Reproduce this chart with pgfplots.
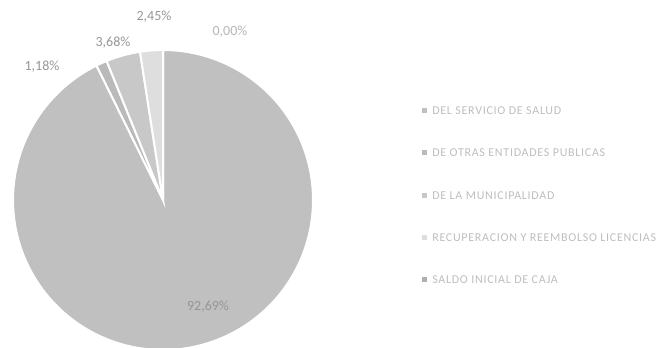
\documentclass[border=0pt]{standalone}
\usepackage{pgfplots}
\pgfplotsset{compat=1.18}
\usepackage{pgfplotstable}
\usepackage{fontspec}
\setmainfont{Carlito}
\newfontfamily\legfont[LetterSpace=6]{Carlito}

\definecolor{sA}{RGB}{192,192,192}
\definecolor{sB}{RGB}{186,186,186}
\definecolor{sC}{RGB}{200,200,200}
\definecolor{sD}{RGB}{222,222,222}
\definecolor{sE}{RGB}{175,175,175}
\definecolor{lbl}{RGB}{150,150,150}
\definecolor{leg}{RGB}{190,190,190}

\pgfplotstableread{
val
92.69
1.18
3.68
2.45
0.00
}\piedata

\pgfplotstablegetelem{0}{val}\of\piedata \let\vA\pgfplotsretval
\pgfplotstablegetelem{1}{val}\of\piedata \let\vB\pgfplotsretval
\pgfplotstablegetelem{2}{val}\of\piedata \let\vC\pgfplotsretval
\pgfplotstablegetelem{3}{val}\of\piedata \let\vD\pgfplotsretval
\pgfmathsetmacro\aA{0}
\pgfmathsetmacro\aB{\aA+3.6*\vA}
\pgfmathsetmacro\aC{\aB+3.6*\vB}
\pgfmathsetmacro\aD{\aC+3.6*\vC}
\pgfmathsetmacro\aE{\aD+3.6*\vD}

\newcommand\legitem[3]{%
  \fill[#2] (422,#1-2.5) rectangle (427,#1+2.5);
  \node[anchor=west, text=leg, inner sep=0pt, font=\legfont\fontsize{9}{10}\selectfont] at (432,#1) {#3};}

\begin{document}
\begin{tikzpicture}
\begin{axis}[
  scale only axis, width=494.25pt, height=261pt,
  xmin=0, xmax=659, ymin=0, ymax=348, y dir=reverse,
  hide axis, clip=true, clip mode=global,
]
\addplot[fill=sA, draw=white, line width=1.5pt, domain=\aA:\aB, samples=200]
  ({163+150*sin(x)},{200-150*cos(x)}) -- (163,200) -- cycle;
\addplot[fill=sB, draw=white, line width=1.5pt, domain=\aB:\aC, samples=10]
  ({163+150*sin(x)},{200-150*cos(x)}) -- (163,200) -- cycle;
\addplot[fill=sC, draw=white, line width=1.5pt, domain=\aC:\aD, samples=10]
  ({163+150*sin(x)},{200-150*cos(x)}) -- (163,200) -- cycle;
\addplot[fill=sD, draw=white, line width=1.5pt, domain=\aD:\aE, samples=10]
  ({163+150*sin(x)},{200-150*cos(x)}) -- (163,200) -- cycle;

\node[text=lbl, font=\fontsize{10.5}{12}\selectfont] at (154,17) {2,45\%};
\node[text=lbl!70, font=\fontsize{10.5}{12}\selectfont] at (230,32) {0,00\%};
\node[text=lbl, font=\fontsize{10.5}{12}\selectfont] at (113,43) {3,68\%};
\node[text=lbl, font=\fontsize{10.5}{12}\selectfont] at (42,67) {1,18\%};
\node[text=lbl, font=\fontsize{10.5}{12}\selectfont] at (208,307) {92,69\%};

\legitem{111}{sA}{DEL SERVICIO DE SALUD}
\legitem{153}{sB}{DE OTRAS ENTIDADES PUBLICAS}
\legitem{196}{sC}{DE LA MUNICIPALIDAD}
\legitem{238}{sD}{RECUPERACION Y REEMBOLSO LICENCIAS}
\legitem{280}{sE}{SALDO INICIAL DE CAJA}
\end{axis}
\pgfresetboundingbox
\useasboundingbox (current axis.south west) rectangle (current axis.north east);
\end{tikzpicture}
\end{document}
